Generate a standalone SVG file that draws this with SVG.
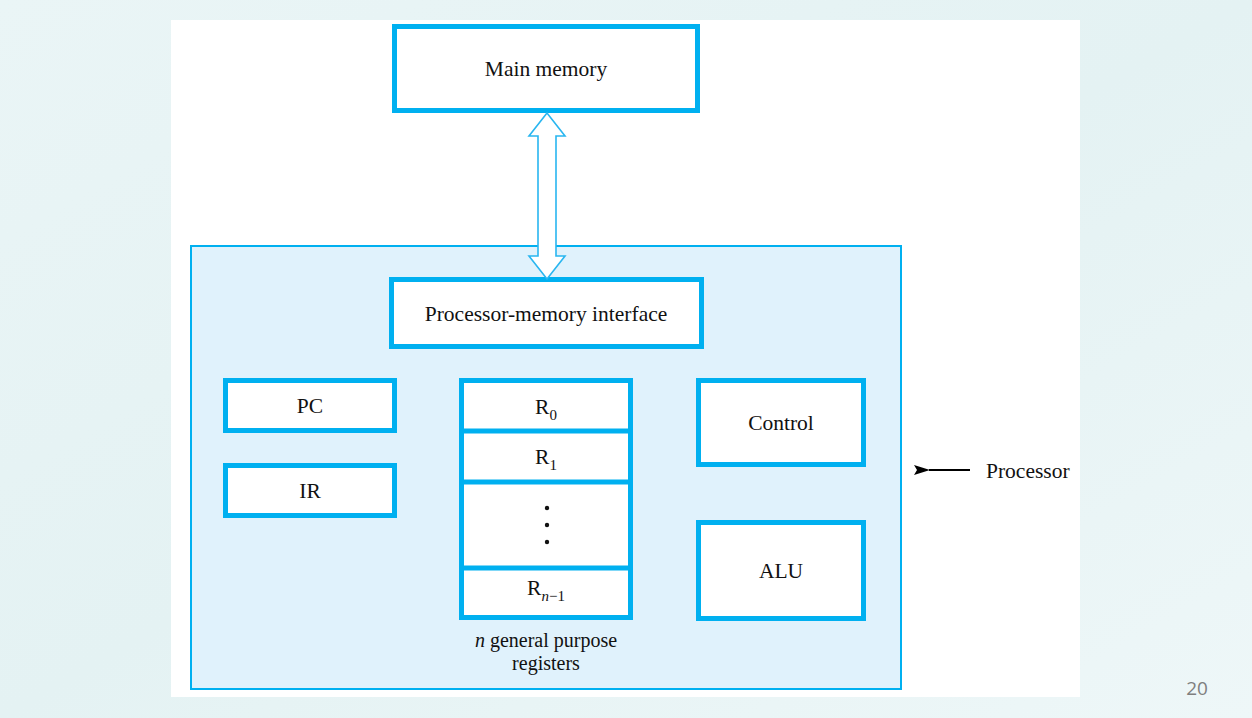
<svg xmlns="http://www.w3.org/2000/svg" width="1252" height="718" viewBox="0 0 1252 718">
<defs>
<linearGradient id="bg" x1="0" y1="0" x2="1" y2="1">
<stop offset="0" stop-color="#eaf5f6"/>
<stop offset="0.5" stop-color="#e4f2f3"/>
<stop offset="1" stop-color="#eef7f8"/>
</linearGradient>
<marker id="ah" markerWidth="16" markerHeight="10" refX="1" refY="5" orient="auto" markerUnits="userSpaceOnUse">
<path d="M16,0 L0,5 L16,10 L13,5 Z" fill="#000"/>
</marker>
<style>
.box{fill:#fff;stroke:#00b0f0;stroke-width:5}
.t{font-family:"Liberation Serif","Times New Roman",serif;font-size:21.5px;fill:#111;text-anchor:middle}
.sub{font-size:15px}
.cap{font-size:20px}
</style>
</defs>
<rect width="1252" height="718" fill="url(#bg)"/>
<rect x="171" y="20" width="909" height="677" fill="#fff"/>
<g id="processor">
<rect x="191" y="246" width="710" height="443" fill="#e0f2fc" stroke="#00b0f0" stroke-width="2"/>
</g>
<g id="main-memory">
<rect class="box" x="394.5" y="26.5" width="303" height="84"/>
<text class="t" x="546" y="76">Main memory</text>
</g>
<g id="pm-interface">
<rect class="box" x="391.5" y="279.5" width="310" height="67"/>
<text class="t" x="546" y="321">Processor-memory interface</text>
</g>
<g id="pc">
<rect class="box" x="225.5" y="380.5" width="169" height="50"/>
<text class="t" x="310" y="413">PC</text>
</g>
<g id="ir">
<rect class="box" x="225.5" y="465.5" width="169" height="50"/>
<text class="t" x="310" y="498">IR</text>
</g>
<g id="control">
<rect class="box" x="698.5" y="380.5" width="165" height="84"/>
<text class="t" x="781" y="430">Control</text>
</g>
<g id="alu">
<rect class="box" x="698.5" y="522.5" width="165" height="96"/>
<text class="t" x="781" y="578">ALU</text>
</g>
<g id="registers">
<rect class="box" x="461.5" y="380.5" width="169" height="237"/>
<line x1="461.5" y1="431" x2="630.5" y2="431" stroke="#00b0f0" stroke-width="5"/>
<line x1="461.5" y1="482" x2="630.5" y2="482" stroke="#00b0f0" stroke-width="5"/>
<line x1="461.5" y1="568" x2="630.5" y2="568" stroke="#00b0f0" stroke-width="5"/>
<text class="t" x="546" y="414">R<tspan class="sub" dy="6">0</tspan></text>
<text class="t" x="546" y="464">R<tspan class="sub" dy="6">1</tspan></text>
<circle cx="547" cy="508" r="2.2" fill="#111"/>
<circle cx="547" cy="525" r="2.2" fill="#111"/>
<circle cx="547" cy="542" r="2.2" fill="#111"/>
<text class="t" x="546" y="595">R<tspan class="sub" dy="6" font-style="italic">n</tspan><tspan class="sub">−1</tspan></text>
<text class="t cap" x="546" y="647"><tspan font-style="italic">n</tspan> general purpose</text>
<text class="t cap" x="546" y="670">registers</text>
</g>
<g id="connectors">
<polygon points="547,113 529,136 538,136 538,256 529,256 547,279 565,256 556,256 556,136 565,136" fill="#fff" stroke="#29b6f0" stroke-width="1.6" stroke-linejoin="miter"/>
<line x1="970" y1="470" x2="929" y2="470" stroke="#000" stroke-width="2" marker-end="url(#ah)"/>
</g>
<g id="processor-label">
<text class="t" x="986" y="478" style="text-anchor:start">Processor</text>
</g>
<text x="1197" y="695" font-family="'Open Sans',sans-serif" font-size="19" fill="#7f7f7f" text-anchor="middle">20</text>
</svg>
